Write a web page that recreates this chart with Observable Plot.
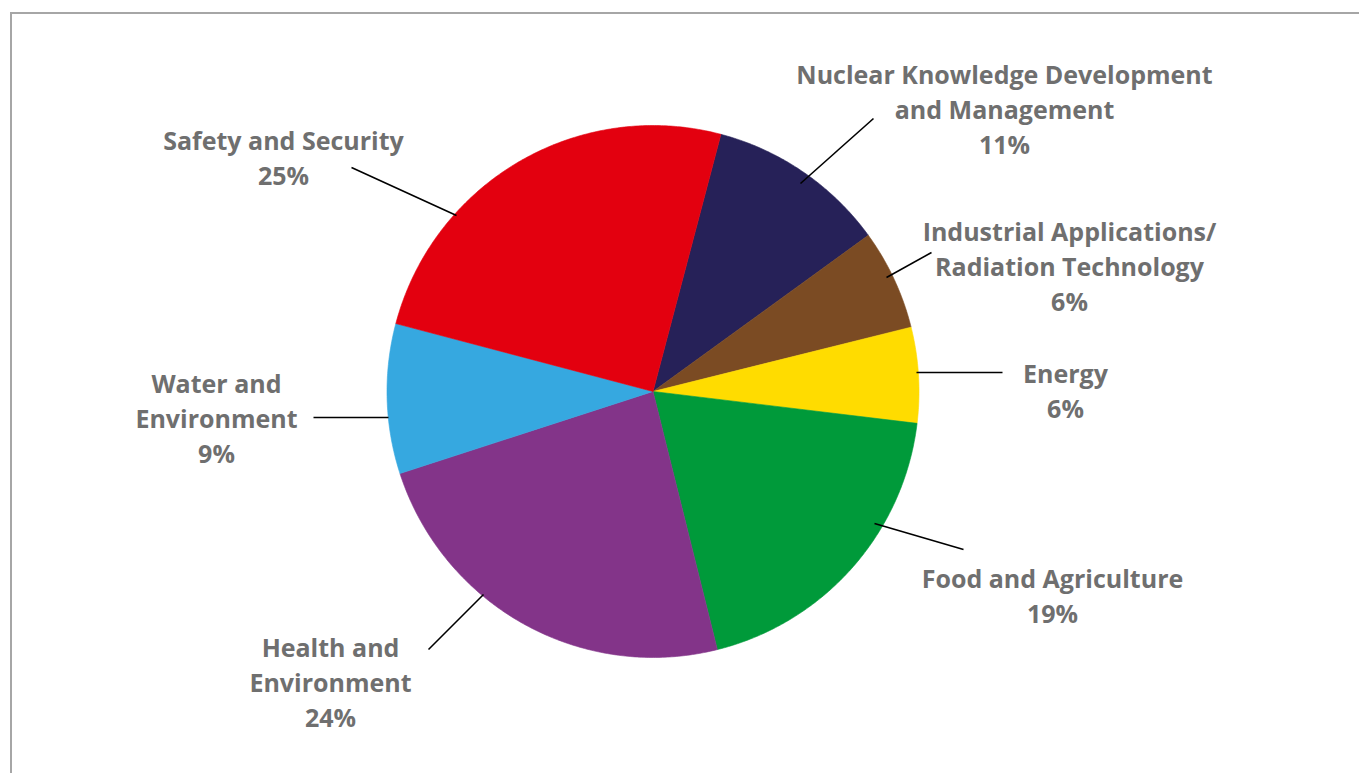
<!DOCTYPE html>
<html>
<head>
<meta charset="utf-8">
<script src="https://cdn.jsdelivr.net/npm/d3@7"></script>
<script src="https://cdn.jsdelivr.net/npm/@observablehq/plot@0.6"></script>
<style>
  html, body { margin: 0; padding: 0; background: #ffffff; }
  #wrap { position: relative; width: 1359px; height: 773px; overflow: hidden; }
  #frame { position: absolute; left: 10px; top: 12px; right: 0; bottom: 0;
           border-top: 2px solid #a6a6a6; border-left: 2px solid #a6a6a6; }
  #chart { position: absolute; left: 0; top: 0; }
  #chart svg { display: block; background: transparent; }
</style>
</head>
<body>
<div id="wrap"><div id="frame"></div><div id="chart"></div></div>
<script>
// ---- Data ----
const categories = [
  "Nuclear Knowledge Development and Management",
  "Industrial Applications/Radiation Technology",
  "Energy",
  "Food and Agriculture",
  "Health and Environment",
  "Water and Environment",
  "Safety and Security"
];
const labelLines = [
  ["Nuclear Knowledge Development", "and Management"],
  ["Industrial Applications/", "Radiation Technology"],
  ["Energy"],
  ["Food and Agriculture"],
  ["Health and", "Environment"],
  ["Water and", "Environment"],
  ["Safety and Security"]
];
const shares = [10.9, 6.1, 5.8, 19.2, 23.9, 9.1, 25.0];
const percentLabels = ["11%", "6%", "6%", "19%", "24%", "9%", "25%"];
const colors = ["#262158", "#7b4b23", "#ffdc00", "#009a3a", "#833489", "#36a8e0", "#e3000f"];

// ---- Layout (pixels) ----
const W = 1359, H = 773;
const pie = {cx: 652.5, cy: 391, r: 266, startDeg: 14.8};
const labelAnchor = [[1004, 81], [1069, 238], [1065, 380], [1052, 585], [330, 654], [216, 390], [283, 147]];
const leaders = [
  [[800, 183], [873, 118]],
  [[886, 277], [931, 252]],
  [[916, 372], [1002, 372]],
  [[874, 523], [963, 549]],
  [[428, 649], [483, 594]],
  [[313, 417], [388, 417]],
  [[351, 167], [456, 215]]
];
const fontSize = 25;
const lineGap = 35;

// data coordinates: pixels relative to pie centre, y upward
const toX = px => px - pie.cx;
const toY = py => pie.cy - py;

const arcs = d3.pie().sort(null).value(d => d)
  .startAngle(pie.startDeg * Math.PI / 180)
  .endAngle(pie.startDeg * Math.PI / 180 + 2 * Math.PI)(shares);

const slicePts = [];
arcs.forEach((a, i) => {
  const name = categories[i];
  slicePts.push({name, x: 0, y: 0});
  const n = Math.max(2, Math.ceil((a.endAngle - a.startAngle) / (Math.PI / 360)));
  for (let k = 0; k <= n; k++) {
    const t = a.startAngle + (a.endAngle - a.startAngle) * k / n;
    slicePts.push({name, x: pie.r * Math.sin(t), y: pie.r * Math.cos(t)});
  }
  slicePts.push({name, x: 0, y: 0});
});

const labels = categories.map((c, i) => ({
  text: labelLines[i].concat([percentLabels[i]]).join("\n"),
  x: toX(labelAnchor[i][0]),
  y: toY(labelAnchor[i][1] - 0.71 * fontSize - 5)
}));
const links = leaders.map(l => ({x1: toX(l[0][0]), y1: toY(l[0][1]), x2: toX(l[1][0]), y2: toY(l[1][1])}));

const chart = Plot.plot({
  width: W, height: H, margin: 0,
  x: {domain: [toX(0), toX(W)], axis: null},
  y: {domain: [toY(H), toY(0)], axis: null},
  color: {domain: categories, range: colors},
  style: {background: "transparent"},
  marks: [
    Plot.line(slicePts, {x: "x", y: "y", z: "name", fill: "name", stroke: "name", strokeWidth: 0.6, curve: "linear"}),
    Plot.link(links, {x1: "x1", y1: "y1", x2: "x2", y2: "y2", stroke: "#000000", strokeWidth: 1.6}),
    Plot.text(labels, {x: "x", y: "y", text: "text", lineAnchor: "top", textAnchor: "middle",
      lineHeight: lineGap / fontSize, fontSize, fontWeight: 700, fontFamily: "'Open Sans', sans-serif",
      fill: "#6f6f6f"})
  ]
});
document.getElementById("chart").appendChild(chart);
</script>
</body>
</html>
